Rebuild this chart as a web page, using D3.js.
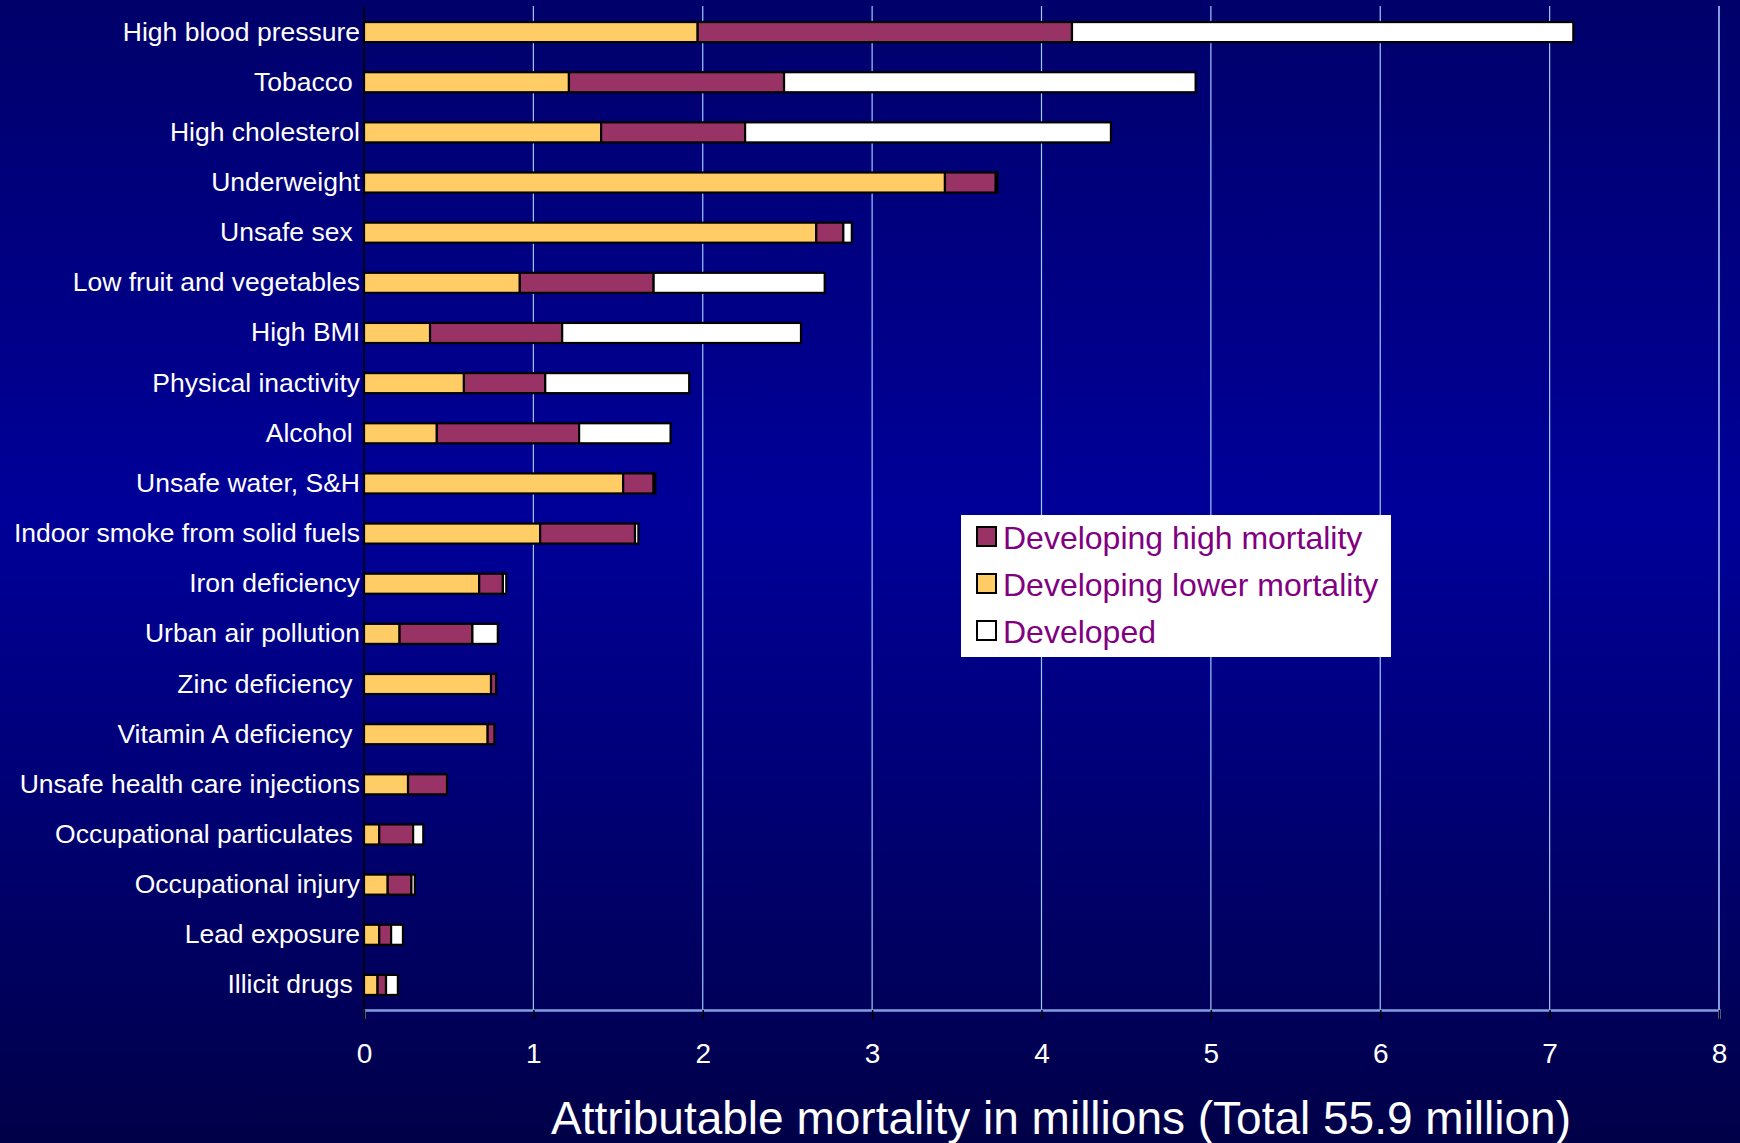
<!DOCTYPE html>
<html>
<head>
<meta charset="utf-8">
<script src="https://cdn.jsdelivr.net/npm/d3@7"></script>
<style>
  html, body { margin: 0; padding: 0; background: #000066; }
  svg { display: block; }
  text { font-family: "Liberation Sans", Arial, sans-serif; }
</style>
</head>
<body>
<svg id="chart" width="1740" height="1143"></svg>
<script>
// Risk factors, ranked by attributable deaths (millions)
const categories = [
  "High blood pressure", "Tobacco ", "High cholesterol", "Underweight",
  "Unsafe sex ", "Low fruit and vegetables", "High BMI", "Physical inactivity",
  "Alcohol ", "Unsafe water, S&H", "Indoor smoke from solid fuels", "Iron deficiency",
  "Urban air pollution", "Zinc deficiency ", "Vitamin A deficiency ",
  "Unsafe health care injections", "Occupational particulates ", "Occupational injury",
  "Lead exposure", "Illicit drugs "
];

// Deaths in developing countries with lower mortality
const lowerMortality = [1.97, 1.21, 1.40, 3.43, 2.67, 0.92, 0.39, 0.59, 0.43, 1.53,
                        1.04, 0.68, 0.21, 0.75, 0.73, 0.26, 0.09, 0.14, 0.09, 0.08];
// Deaths in developing countries with high mortality
const highMortality  = [2.21, 1.27, 0.85, 0.30, 0.16, 0.79, 0.78, 0.48, 0.84, 0.18,
                        0.56, 0.14, 0.43, 0.03, 0.04, 0.23, 0.20, 0.14, 0.07, 0.05];
// Deaths in developed countries
const developed      = [2.96, 2.43, 2.16, 0.01, 0.05, 1.01, 1.41, 0.85, 0.54, 0.01,
                        0.02, 0.02, 0.15, 0.00, 0.00, 0.00, 0.06, 0.02, 0.07, 0.07];

const xTicks = [0, 1, 2, 3, 4, 5, 6, 7, 8];
const axisTitle = "Attributable mortality in millions (Total 55.9 million)";

const seriesKeys = ["lower", "high", "developed"];
const seriesColors = { lower: "#FFCC66", high: "#993366", developed: "#FFFFFF" };
const legendItems = [
  { key: "high", label: "Developing high mortality" },
  { key: "lower", label: "Developing lower mortality" },
  { key: "developed", label: "Developed" }
];

const rows = categories.map((c, i) => ({
  category: c, lower: lowerMortality[i], high: highMortality[i], developed: developed[i]
}));

const svg = d3.select("#chart");
const W = 1740, H = 1143;

// Background: vertical blue gradient
const defs = svg.append("defs");
const grad = defs.append("linearGradient").attr("id", "bg")
  .attr("x1", 0).attr("y1", 0).attr("x2", 0).attr("y2", 1);
grad.append("stop").attr("offset", "0%").attr("stop-color", "#00006A");
grad.append("stop").attr("offset", "45%").attr("stop-color", "#000099");
grad.append("stop").attr("offset", "100%").attr("stop-color", "#000048");
svg.append("rect").attr("width", W).attr("height", H).attr("fill", "url(#bg)");

const plot = { left: 364, right: 1719, top: 7, bottom: 1010 };

const x = d3.scaleLinear().domain([0, 8]).range([plot.left, plot.right]);
const y = d3.scaleBand().domain(categories).range([plot.top, plot.bottom]).paddingInner(0.6).paddingOuter(0.3);

// Vertical grid lines
svg.append("g").selectAll("line").data(xTicks.filter(t => t > 0 && t < 8)).join("line")
  .attr("x1", d => x(d)).attr("x2", d => x(d))
  .attr("y1", plot.top - 1).attr("y2", plot.bottom)
  .attr("stroke", "#9EC8FF").attr("stroke-width", 1.2);

// Right border of plot area
svg.append("line")
  .attr("x1", x(8)).attr("x2", x(8)).attr("y1", plot.top - 1).attr("y2", plot.bottom)
  .attr("stroke", "#7F9FE0").attr("stroke-width", 2);

// Stacked bars
const stacked = d3.stack().keys(seriesKeys)(rows);
const barGroup = svg.append("g");
stacked.forEach(layer => {
  barGroup.append("g").selectAll("rect")
    .data(layer.filter(d => d[1] - d[0] > 0))
    .join("rect")
    .attr("x", d => x(d[0]))
    .attr("y", d => y(d.data.category))
    .attr("width", d => x(d[1]) - x(d[0]))
    .attr("height", y.bandwidth())
    .attr("fill", seriesColors[layer.key])
    .attr("stroke", "#000")
    .attr("stroke-width", 2.2);
});

// X axis
const xAxis = d3.axisBottom(x).tickValues(xTicks).tickSize(9).tickPadding(24).tickFormat(d3.format("d"));
const gx = svg.append("g").attr("transform", `translate(0,${plot.bottom})`).call(xAxis);
gx.select(".domain").attr("stroke", "#7F9FE0").attr("stroke-width", 2.5);
gx.selectAll(".tick line").attr("stroke", "#000").attr("stroke-width", 1.5);
gx.selectAll(".tick text").attr("fill", "#fff").attr("font-size", 28)
  .attr("font-family", "'Liberation Sans', Arial, sans-serif");

// Y axis (category labels)
const yAxis = d3.axisLeft(y).tickSize(0).tickPadding(4);
const gy = svg.append("g").attr("transform", `translate(${plot.left},0)`).call(yAxis);
gy.select(".domain").remove();
gy.selectAll(".tick text").attr("fill", "#fff").attr("font-size", 26.5)
  .attr("font-family", "'Liberation Sans', Arial, sans-serif")
  .style("white-space", "pre");

// Left axis line
svg.append("line")
  .attr("x1", plot.left).attr("x2", plot.left).attr("y1", plot.top - 1).attr("y2", plot.bottom + 9)
  .attr("stroke", "#000").attr("stroke-width", 1.5);

// Axis title
svg.append("text")
  .attr("x", 1061).attr("y", 1134)
  .attr("text-anchor", "middle")
  .attr("fill", "#fff").attr("font-size", 46)
  .text(axisTitle);

// Legend
const legend = svg.append("g").attr("transform", "translate(961,515)");
legend.append("rect").attr("width", 430).attr("height", 142).attr("fill", "#fff");
const li = legend.selectAll("g.item").data(legendItems).join("g")
  .attr("class", "item")
  .attr("transform", (d, i) => `translate(16,${12 + i * 47})`);
li.append("rect").attr("width", 19).attr("height", 19)
  .attr("fill", d => seriesColors[d.key]).attr("stroke", "#000").attr("stroke-width", 2);
li.append("text").attr("x", 26).attr("y", 22)
  .attr("fill", "#800080").attr("font-size", 32)
  .text(d => d.label);
</script>
</body>
</html>
